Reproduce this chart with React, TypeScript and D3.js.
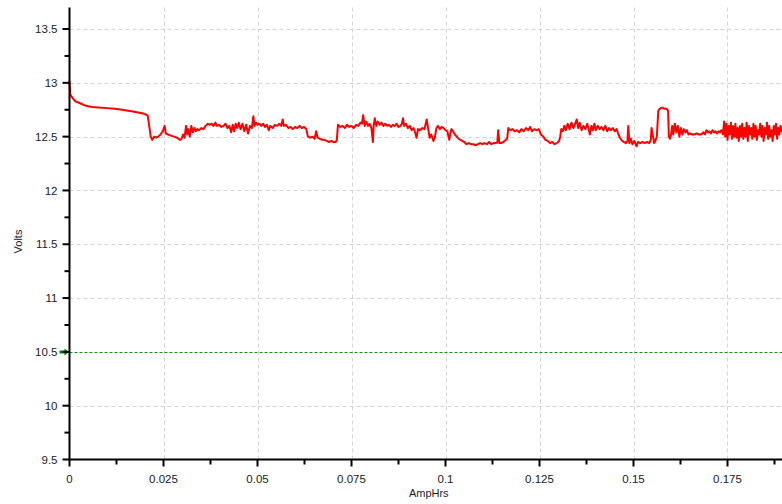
import React from "react";
import * as d3 from "d3";

const xTicks = [0, 0.025, 0.05, 0.075, 0.1, 0.125, 0.15, 0.175];
const xMinorTicks = [0.0125, 0.0375, 0.0625, 0.0875, 0.1125, 0.1375, 0.1625, 0.1875];
const yTicks = [9.5, 10, 10.5, 11, 11.5, 12, 12.5, 13, 13.5];
const yMinorTicks = [9.75, 10.25, 10.75, 11.25, 11.75, 12.25, 12.75, 13.25];
const cutoffVolts = 10.5;
const xLabel = "AmpHrs";
const yLabel = "Volts";

// [AmpHrs, Volts]
const readings: [number, number][] = [
  [0, 13.02], [0.0002, 12.89], [0.0008, 12.86], [0.0015, 12.83], [0.0028, 12.81], [0.0041, 12.79],
  [0.006, 12.775], [0.0077, 12.77], [0.01, 12.765], [0.0121, 12.76], [0.014, 12.75], [0.0165, 12.735],
  [0.019, 12.72], [0.0201, 12.71], [0.0208, 12.695], [0.0212, 12.6], [0.0216, 12.5], [0.022, 12.47],
  [0.0225, 12.5], [0.023, 12.49], [0.0236, 12.5], [0.0242, 12.52], [0.0248, 12.55], [0.0253, 12.6],
  [0.0256, 12.53], [0.0262, 12.52], [0.027, 12.51], [0.0278, 12.5], [0.0286, 12.49], [0.0294, 12.47],
  [0.0298, 12.48], [0.0302, 12.52], [0.0306, 12.49], [0.031, 12.6], [0.0313, 12.52], [0.0316, 12.57],
  [0.032, 12.5], [0.0324, 12.6], [0.0328, 12.54], [0.0332, 12.58], [0.0336, 12.55], [0.034, 12.57],
  [0.0345, 12.56], [0.035, 12.58], [0.0356, 12.57], [0.0362, 12.6], [0.0368, 12.62], [0.0372, 12.61],
  [0.0378, 12.62], [0.0383, 12.6], [0.0388, 12.63], [0.0392, 12.6], [0.0398, 12.61], [0.0404, 12.59],
  [0.041, 12.6], [0.0415, 12.62], [0.042, 12.58], [0.0425, 12.6], [0.043, 12.54], [0.0434, 12.61],
  [0.0438, 12.55], [0.0442, 12.62], [0.0446, 12.58], [0.045, 12.63], [0.0455, 12.57], [0.046, 12.62],
  [0.0465, 12.55], [0.047, 12.61], [0.0475, 12.53], [0.048, 12.6], [0.0485, 12.58], [0.0489, 12.69],
  [0.0492, 12.6], [0.0496, 12.63], [0.05, 12.61], [0.0505, 12.62], [0.051, 12.6], [0.0515, 12.62],
  [0.052, 12.59], [0.0525, 12.61], [0.053, 12.56], [0.0534, 12.6], [0.054, 12.58], [0.0546, 12.61],
  [0.0552, 12.6], [0.0558, 12.62], [0.0563, 12.6], [0.0567, 12.66], [0.057, 12.6], [0.0576, 12.61],
  [0.0582, 12.58], [0.0588, 12.59], [0.0594, 12.57], [0.06, 12.59], [0.0606, 12.58], [0.0612, 12.6],
  [0.0618, 12.58], [0.0624, 12.59], [0.063, 12.57], [0.0634, 12.5], [0.064, 12.49], [0.0646, 12.5],
  [0.0652, 12.48], [0.0656, 12.55], [0.066, 12.49], [0.0666, 12.48], [0.0672, 12.47], [0.0678, 12.47],
  [0.0684, 12.46], [0.069, 12.45], [0.0696, 12.46], [0.0702, 12.45], [0.0708, 12.45], [0.0711, 12.47],
  [0.0714, 12.61], [0.072, 12.59], [0.0726, 12.6], [0.0732, 12.58], [0.0738, 12.61], [0.0744, 12.59],
  [0.075, 12.6], [0.0756, 12.58], [0.0762, 12.61], [0.0768, 12.6], [0.0774, 12.63], [0.0778, 12.62],
  [0.0781, 12.7], [0.0785, 12.6], [0.0789, 12.64], [0.0794, 12.6], [0.0798, 12.62], [0.0803, 12.58],
  [0.0807, 12.45], [0.0809, 12.6], [0.0812, 12.67], [0.0816, 12.6], [0.082, 12.64], [0.0825, 12.61],
  [0.083, 12.63], [0.0835, 12.6], [0.084, 12.62], [0.0845, 12.6], [0.085, 12.61], [0.0855, 12.59],
  [0.086, 12.61], [0.0865, 12.6], [0.087, 12.62], [0.0875, 12.59], [0.088, 12.6], [0.0884, 12.62],
  [0.0887, 12.67], [0.089, 12.6], [0.0895, 12.62], [0.09, 12.58], [0.0905, 12.6], [0.091, 12.56],
  [0.0915, 12.58], [0.092, 12.53], [0.0923, 12.49], [0.0927, 12.57], [0.0932, 12.56], [0.0938, 12.58],
  [0.0944, 12.57], [0.095, 12.66], [0.0954, 12.57], [0.0958, 12.49], [0.0962, 12.52], [0.0968, 12.46],
  [0.0972, 12.5], [0.0976, 12.58], [0.098, 12.6], [0.0985, 12.57], [0.099, 12.59], [0.0995, 12.58],
  [0.1, 12.56], [0.1005, 12.55], [0.101, 12.47], [0.1013, 12.53], [0.1016, 12.57], [0.102, 12.55],
  [0.1025, 12.52], [0.103, 12.5], [0.1035, 12.48], [0.104, 12.47], [0.1045, 12.46], [0.105, 12.45],
  [0.1056, 12.43], [0.1062, 12.44], [0.1068, 12.43], [0.1074, 12.43], [0.108, 12.42], [0.1086, 12.43],
  [0.1092, 12.44], [0.1098, 12.43], [0.1104, 12.44], [0.111, 12.43], [0.1116, 12.45], [0.1122, 12.43],
  [0.1128, 12.44], [0.1134, 12.44], [0.1138, 12.45], [0.114, 12.56], [0.1143, 12.44], [0.1148, 12.44],
  [0.1154, 12.45], [0.116, 12.47], [0.1164, 12.48], [0.1167, 12.58], [0.1172, 12.56], [0.1178, 12.57],
  [0.1184, 12.55], [0.119, 12.56], [0.1196, 12.54], [0.1202, 12.57], [0.1208, 12.55], [0.1214, 12.58],
  [0.122, 12.56], [0.1225, 12.59], [0.123, 12.55], [0.1236, 12.57], [0.1242, 12.56], [0.1248, 12.57],
  [0.1254, 12.52], [0.126, 12.5], [0.1266, 12.47], [0.1272, 12.46], [0.1278, 12.44], [0.1284, 12.45],
  [0.129, 12.43], [0.1296, 12.44], [0.1302, 12.46], [0.1305, 12.5], [0.1308, 12.57], [0.1312, 12.55],
  [0.1316, 12.6], [0.132, 12.56], [0.1325, 12.62], [0.133, 12.57], [0.1335, 12.63], [0.134, 12.58],
  [0.1345, 12.62], [0.1349, 12.66], [0.1353, 12.58], [0.1357, 12.63], [0.1362, 12.56], [0.1367, 12.6],
  [0.1372, 12.57], [0.1377, 12.62], [0.1382, 12.55], [0.1384, 12.52], [0.1388, 12.6], [0.1392, 12.56],
  [0.1396, 12.62], [0.14, 12.56], [0.1405, 12.6], [0.141, 12.57], [0.1415, 12.59], [0.142, 12.56],
  [0.1425, 12.6], [0.143, 12.55], [0.1435, 12.58], [0.144, 12.56], [0.1445, 12.58], [0.145, 12.55],
  [0.1455, 12.57], [0.146, 12.52], [0.1464, 12.49], [0.147, 12.46], [0.1475, 12.45], [0.148, 12.44],
  [0.1484, 12.46], [0.1486, 12.6], [0.1489, 12.44], [0.1493, 12.48], [0.1497, 12.43], [0.1502, 12.46],
  [0.1508, 12.41], [0.1512, 12.45], [0.1518, 12.44], [0.1524, 12.45], [0.153, 12.44], [0.1536, 12.45],
  [0.1542, 12.44], [0.1546, 12.47], [0.1548, 12.58], [0.1552, 12.5], [0.1555, 12.44], [0.1558, 12.46],
  [0.1562, 12.5], [0.1566, 12.74], [0.157, 12.76], [0.1576, 12.77], [0.1582, 12.76], [0.1588, 12.76],
  [0.1592, 12.74], [0.1594, 12.5], [0.1597, 12.48], [0.16, 12.52], [0.1603, 12.6], [0.1606, 12.52],
  [0.161, 12.62], [0.1614, 12.54], [0.1618, 12.6], [0.1622, 12.5], [0.1626, 12.58], [0.163, 12.52],
  [0.1634, 12.57], [0.1638, 12.54], [0.1642, 12.56], [0.1646, 12.52], [0.165, 12.53], [0.1656, 12.52],
  [0.1662, 12.52], [0.1668, 12.53], [0.1674, 12.52], [0.168, 12.52], [0.1686, 12.54], [0.169, 12.52],
  [0.1694, 12.56], [0.1698, 12.54], [0.1702, 12.55], [0.1706, 12.53], [0.171, 12.56], [0.1714, 12.54],
  [0.1718, 12.55], [0.1722, 12.53], [0.1726, 12.55], [0.173, 12.54], [0.1734, 12.56], [0.1738, 12.52],
  [0.1741, 12.64], [0.1744, 12.5], [0.1747, 12.62], [0.175, 12.47], [0.1753, 12.6], [0.1756, 12.52],
  [0.1759, 12.63], [0.1762, 12.48], [0.1765, 12.6], [0.1768, 12.5], [0.1771, 12.62], [0.1774, 12.49],
  [0.1777, 12.58], [0.178, 12.46], [0.1783, 12.6], [0.1786, 12.5], [0.1789, 12.62], [0.1792, 12.48],
  [0.1795, 12.58], [0.1798, 12.5], [0.1801, 12.63], [0.1804, 12.46], [0.1807, 12.6], [0.181, 12.52],
  [0.1813, 12.58], [0.1816, 12.48], [0.1819, 12.62], [0.1822, 12.5], [0.1825, 12.6], [0.1828, 12.47],
  [0.1831, 12.56], [0.1834, 12.52], [0.1837, 12.62], [0.184, 12.5], [0.1843, 12.6], [0.1846, 12.46],
  [0.1849, 12.58], [0.1852, 12.52], [0.1855, 12.63], [0.1858, 12.48], [0.1861, 12.6], [0.1864, 12.5],
  [0.1867, 12.56], [0.187, 12.46], [0.1873, 12.6], [0.1876, 12.52], [0.1879, 12.62], [0.1882, 12.48],
  [0.1885, 12.58], [0.1888, 12.52], [0.1891, 12.6], [0.1894, 12.55], [0.1897, 12.58],
];

const W = 782;
const H = 504;
const FONT = "'Liberation Sans', Arial, sans-serif";

export default function App() {
  const x = d3.scaleLinear().domain([0, 0.19]).range([69.5, 783.9]);
  const y = d3.scaleLinear().domain([9.5, 13.7]).range([459.5, 7.5]);
  const left = x(0);
  const bottom = y(9.5);
  const top = y(13.7);

  const line = d3
    .line<[number, number]>()
    .x((d) => x(d[0]))
    .y((d) => y(d[1]));

  const fmtX = (v: number) => (v === 0 ? "0" : String(v));

  return (
    <svg
      width={W}
      height={H}
      style={{ position: "absolute", left: 0, top: 0, background: "#fff" }}
      fontFamily={FONT}
    >
      <rect x={0} y={0} width={W} height={H} fill="#fff" />
      {/* grid */}
      {xTicks.filter((t) => t > 0).map((t) => (
        <line key={"gx" + t} x1={Math.round(x(t)) + 0.5} x2={Math.round(x(t)) + 0.5} y1={top} y2={bottom}
          stroke="#d4d4d4" strokeDasharray="4,3" />
      ))}
      {yTicks.filter((t) => t > 9.5 && t !== cutoffVolts).map((t) => (
        <line key={"gy" + t} x1={left} x2={W} y1={Math.round(y(t)) + 0.5} y2={Math.round(y(t)) + 0.5}
          stroke="#d4d4d4" strokeDasharray="4,3" />
      ))}
      {/* cutoff line */}
      <line x1={left} x2={W} y1={Math.round(y(cutoffVolts)) + 0.5} y2={Math.round(y(cutoffVolts)) + 0.5}
        stroke="#1e8c1e" strokeDasharray="3,2" />
      <path
        d={`M${left - 10},${y(cutoffVolts) - 1.5} h5 v-2 l4.5,3.5 l-4.5,3.5 v-2 h-5 z`}
        fill="#008000"
      />
      {/* data line */}
      <path d={line(readings) || ""} fill="none" stroke="#ff0000" strokeWidth={2} strokeLinejoin="round" />
      {/* axes */}
      <line x1={left} x2={left} y1={top} y2={bottom + 1} stroke="#000" strokeWidth={2} />
      <line x1={left - 1} x2={W} y1={bottom} y2={bottom} stroke="#000" strokeWidth={2} />
      {yTicks.map((t) => (
        <g key={"yt" + t}>
          <line x1={left - 7} x2={left} y1={y(t)} y2={y(t)} stroke="#000" strokeWidth={2} />
          <text x={left - 12} y={y(t)} dy="0.36em" textAnchor="end" fontSize={11.5} fill="#1a1a2a">
            {t}
          </text>
        </g>
      ))}
      {yMinorTicks.map((t) => (
        <line key={"ym" + t} x1={left - 5} x2={left} y1={y(t)} y2={y(t)} stroke="#000" strokeWidth={2} />
      ))}
      {xTicks.map((t) => (
        <g key={"xt" + t}>
          <line x1={x(t)} x2={x(t)} y1={bottom} y2={bottom + 7} stroke="#000" strokeWidth={2} />
          <text x={x(t)} y={bottom + 23} textAnchor="middle" fontSize={11.5} fill="#1a1a2a">
            {fmtX(t)}
          </text>
        </g>
      ))}
      {xMinorTicks.map((t) => (
        <line key={"xm" + t} x1={x(t)} x2={x(t)} y1={bottom} y2={bottom + 5} stroke="#000" strokeWidth={2} />
      ))}
      <text x={(left + W) / 2 + 3} y={bottom + 37} textAnchor="middle" fontSize={11} fill="#1a1a2a">
        {xLabel}
      </text>
      <text transform={`translate(22, ${(top + bottom) / 2 + 8}) rotate(-90)`} textAnchor="middle" fontSize={11} fill="#1a1a2a">
        {yLabel}
      </text>
    </svg>
  );
}
